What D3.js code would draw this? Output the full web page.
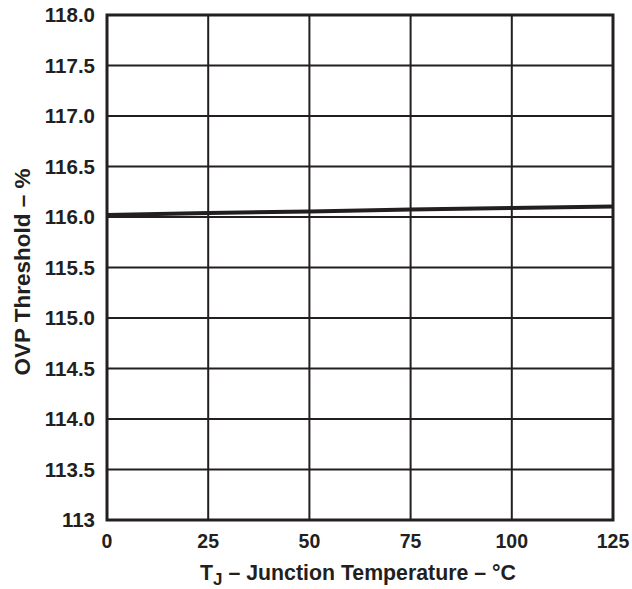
<!DOCTYPE html>
<html>
<head>
<meta charset="utf-8">
<script src="https://cdn.jsdelivr.net/npm/d3@7"></script>
<style>
body { margin: 0; background: #fff; }
text { font-family: "Liberation Sans", Arial, sans-serif; font-weight: bold; fill: #231f20; }
</style>
</head>
<body>
<div id="chart"></div>
<script>
var temps = [0, 25, 50, 75, 100, 125];
var ovp = [116.02, 116.04, 116.055, 116.075, 116.09, 116.105];
var xTicks = [0, 25, 50, 75, 100, 125];
var yTicks = [113, 113.5, 114, 114.5, 115, 115.5, 116, 116.5, 117, 117.5, 118];
var yLabels = ["113", "113.5", "114.0", "114.5", "115.0", "115.5", "116.0", "116.5", "117.0", "117.5", "118.0"];

var W = 632, H = 589;
var m = { left: 107, right: 19, top: 15, bottom: 69 };
var ink = "#231f20";

var svg = d3.select("#chart").append("svg")
    .attr("width", W)
    .attr("height", H);

var x = d3.scaleLinear().domain([0, 125]).range([m.left, W - m.right]);
var y = d3.scaleLinear().domain([113, 118]).range([H - m.bottom, m.top]);

//grid
var grid = svg.append("g");
grid.selectAll("line.h").data(yTicks).enter().append("line")
    .attr("x1", x(0)).attr("x2", x(125))
    .attr("y1", function (d) { return y(d); })
    .attr("y2", function (d) { return y(d); })
    .attr("stroke", ink).attr("stroke-width", 2);
grid.selectAll("line.v").data(xTicks).enter().append("line")
    .attr("y1", y(113)).attr("y2", y(118))
    .attr("x1", function (d) { return x(d); })
    .attr("x2", function (d) { return x(d); })
    .attr("stroke", ink).attr("stroke-width", 2);

//frame
svg.append("rect")
    .attr("x", x(0)).attr("y", y(118))
    .attr("width", x(125) - x(0)).attr("height", y(113) - y(118))
    .attr("fill", "none").attr("stroke", ink).attr("stroke-width", 3);

//data
var line = d3.line()
    .x(function (d, i) { return x(temps[i]); })
    .y(function (d) { return y(d); });
svg.append("path")
    .datum(ovp)
    .attr("d", line)
    .attr("fill", "none")
    .attr("stroke", ink)
    .attr("stroke-width", 4);

//axes labels
svg.append("g").selectAll("text").data(yTicks).enter().append("text")
    .attr("x", x(0) - 12)
    .attr("y", function (d) { return y(d) + 7; })
    .attr("text-anchor", "end")
    .attr("font-size", 20.5)
    .text(function (d, i) { return yLabels[i]; });

svg.append("g").selectAll("text").data(xTicks).enter().append("text")
    .attr("x", function (d) { return x(d); })
    .attr("y", 548)
    .attr("text-anchor", "middle")
    .attr("font-size", 19.5)
    .text(function (d) { return d; });

var xt = svg.append("text")
    .attr("x", 358)
    .attr("y", 580)
    .attr("text-anchor", "middle")
    .attr("font-size", 21.3);
xt.append("tspan").text("T");
xt.append("tspan").attr("font-size", 17).attr("dy", 5).text("J");
xt.append("tspan").attr("dy", -5).text(" \u2013 Junction Temperature \u2013 \u00b0C");

svg.append("text")
    .attr("transform", "translate(30," + 272 + ") rotate(-90)")
    .attr("text-anchor", "middle")
    .attr("font-size", 22.5)
    .text("OVP Threshold \u2013 %");
</script>
</body>
</html>
